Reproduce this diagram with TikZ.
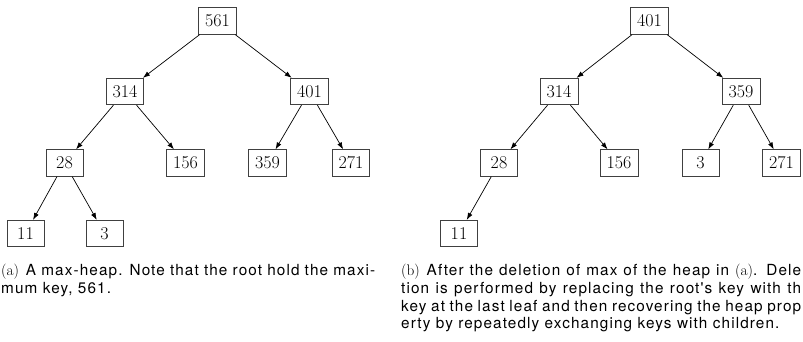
\documentclass[tikz,border=0pt]{standalone}
\usepackage{fontspec}
\newfontfamily\capfont[LetterSpace=7.3]{TeX Gyre Heros}
\usetikzlibrary{arrows.meta}
\tikzset{
  key/.style={draw=black!75, line width=0.8pt, minimum width=37pt, minimum height=26.5pt,
    inner xsep=6.5pt, inner ysep=0pt, font=\fontsize{18}{20}\selectfont},
  edge/.style={-{Latex[length=7pt,width=5pt]}, line width=0.7pt},
  capline/.style={anchor=base west, inner sep=0pt, font=\capfont\fontsize{15.3}{18}\selectfont}
}
\begin{document}
\begin{tikzpicture}[x=1pt,y=-1pt]
\useasboundingbox (0,0) rectangle (803,341);
% tree (a)
\node[key] (a561) at (217.5,21) {561};
\node[key] (a314) at (125,91.5) {314};
\node[key] (a401) at (309.5,91.5) {401};
\node[key] (a28) at (64.5,163) {28};
\node[key] (a156) at (185.5,163) {156};
\node[key] (a359) at (267.5,163) {359};
\node[key] (a271) at (351,163) {271};
\node[key] (a11) at (25.5,233.5) {11};
\node[key] (a3) at (104.5,233.5) {3};
\draw[edge] (a561) -- (a314);
\draw[edge] (a561) -- (a401);
\draw[edge] (a314) -- (a28);
\draw[edge] (a314) -- (a156);
\draw[edge] (a401) -- (a359);
\draw[edge] (a401) -- (a271);
\draw[edge] (a28) -- (a11);
\draw[edge] (a28) -- (a3);
% tree (b)
\node[key] (b401) at (649.5,21) {401};
\node[key] (b314) at (559,91.5) {314};
\node[key] (b359) at (741,91.5) {359};
\node[key] (b28) at (499,163) {28};
\node[key] (b156) at (619,163) {156};
\node[key] (b3) at (700.5,163) {3};
\node[key] (b271) at (781.5,163) {271};
\node[key] (b11) at (459,233.5) {11};
\draw[edge] (b401) -- (b314);
\draw[edge] (b401) -- (b359);
\draw[edge] (b314) -- (b28);
\draw[edge] (b314) -- (b156);
\draw[edge] (b359) -- (b3);
\draw[edge] (b359) -- (b271);
\draw[edge] (b28) -- (b11);
% captions
\node[capline] (ca1) at (1,275.5) {\makebox[374pt][s]{{\rmfamily (a)}\hspace{0.45em}A max-heap. Note that the root hold the maxi-}};
\node[capline] (ca2) at (1,293.2) {mum key, 561.};
\node[capline] (cb1) at (401,275.5) {\makebox[400pt][s]{{\rmfamily (b)}\hspace{0.45em}After the deletion of max of the heap in {\rmfamily (a)}. Dele}};
\node[capline] (cb2) at (401,293.2) {\makebox[400pt][s]{tion is performed by replacing the root's key with th}};
\node[capline] (cb3) at (401,311) {\makebox[400pt][s]{key at the last leaf and then recovering the heap prop}};
\node[capline] (cb4) at (401,328.7) {erty by repeatedly exchanging keys with children.};
\end{tikzpicture}
\end{document}
